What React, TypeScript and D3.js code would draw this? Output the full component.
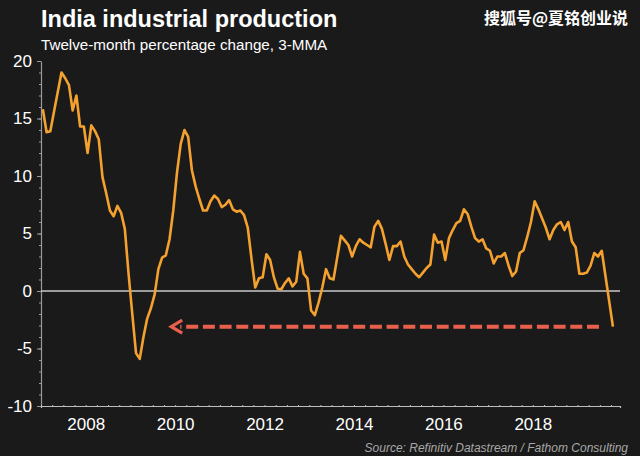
import React, { useEffect, useRef } from 'react';
import * as d3 from 'd3';

// monthly 3-MMA values, Jan 2007 .. Oct 2019
const startYear = 2007;
const values: number[] = [
  // 2007
  15.8, 13.8, 13.9, 15.6, 17.3, 19.0, 18.5, 17.9, 15.7, 17.0, 14.3, 14.3,
  // 2008
  12.0, 14.4, 13.9, 13.2, 9.9, 8.5, 7.0, 6.5, 7.4, 6.8, 5.4, 1.5,
  // 2009
  -2.0, -5.4, -5.9, -4.0, -2.4, -1.5, -0.3, 1.9, 2.9, 3.1, 4.5, 7.0,
  // 2010
  10.3, 12.8, 14.0, 13.4, 10.5, 9.1, 8.0, 7.0, 7.0, 7.8, 8.3, 8.0,
  // 2011
  7.3, 7.5, 7.9, 7.1, 6.9, 7.0, 6.6, 5.5, 2.8, 0.3, 1.1, 1.2,
  // 2012
  3.2, 2.7, 1.2, 0.2, 0.15, 0.7, 1.1, 0.4, 0.8, 3.4, 1.5, 1.1,
  // 2013
  -1.7, -2.1, -1.0, 0.3, 1.9, 1.1, 1.0, 2.9, 4.8, 4.4, 4.0, 3.0,
  // 2014
  3.9, 4.5, 4.2, 4.0, 3.8, 5.6, 6.1, 5.4, 4.1, 2.7, 3.9, 3.9,
  // 2015
  4.3, 3.0, 2.3, 1.9, 1.5, 1.2, 1.6, 2.0, 2.3, 4.9, 4.2, 4.3,
  // 2016
  2.7, 4.6, 5.3, 5.9, 6.1, 7.1, 6.7, 5.6, 4.6, 4.3, 4.5, 3.7,
  // 2017
  3.5, 2.4, 3.0, 3.0, 3.3, 2.2, 1.3, 1.7, 3.3, 3.55, 4.7, 6.0,
  // 2018
  7.8, 7.1, 6.3, 5.5, 4.5, 5.3, 5.8, 6.0, 5.3, 6.0, 4.3, 3.8,
  // 2019
  1.5, 1.5, 1.6, 2.2, 3.3, 3.0, 3.5, 1.3, -0.9, -3.1,
];

const xDomain: [number, number] = [2007, 2019.95];
const yDomain: [number, number] = [-10, 20];
const yMajorTicks = [-10, -5, 0, 5, 10, 15, 20];
const xLabelYears = [2008, 2010, 2012, 2014, 2016, 2018];

// dashed arrow: from (tail) to (head), in years / percent
const arrowTail = { t: 2019.48, v: -3.1 };
const arrowHead = { t: 2009.89, v: -3.1 };

const title = 'India industrial production';
const subtitle = 'Twelve-month percentage change, 3-MMA';
const watermark = '搜狐号@夏铭创业说';
const source = 'Source: Refinitiv Datastream / Fathom Consulting';

const W = 640;
const H = 456;

const App: React.FC = () => {
  const svgRef = useRef<SVGSVGElement>(null);

  useEffect(() => {
    if (!svgRef.current) return;
    const svg = d3.select(svgRef.current);
    svg.selectAll('*').remove();

    const x = d3.scaleLinear().domain(xDomain).range([41, 620]);
    const y = d3.scaleLinear().domain(yDomain).range([406, 61]);

    svg.append('rect').attr('width', W).attr('height', H).attr('fill', '#1a1a1a');

    // titles
    svg.append('text')
      .attr('x', 41).attr('y', 27)
      .attr('fill', '#fff')
      .style('font', 'bold 23.5px "Liberation Sans", Arial, sans-serif')
      .text(title);
    svg.append('text')
      .attr('x', 41).attr('y', 50)
      .attr('fill', '#fff')
      .style('font', '15.2px "Liberation Sans", Arial, sans-serif')
      .text(subtitle);
    svg.append('text')
      .attr('x', 628).attr('y', 24)
      .attr('text-anchor', 'end')
      .attr('fill', '#fff')
      .style('font', 'bold 16px "Noto Sans CJK SC", sans-serif')
      .text(watermark);

    // y axis
    const yMinor = d3.range(yDomain[0], yDomain[1] + 1);
    const gyMinor = svg.append('g').attr('transform', `translate(${x(xDomain[0])},0)`)
      .call(d3.axisLeft(y).tickValues(yMinor).tickSize(2).tickFormat(() => ''));
    gyMinor.select('.domain').remove();
    const gy = svg.append('g').attr('transform', `translate(${x(xDomain[0])},0)`)
      .call(d3.axisLeft(y).tickValues(yMajorTicks).tickSize(4).tickSizeOuter(0).tickPadding(5)
        .tickFormat(d => String(d)));
    gy.select('.domain').attr('stroke', '#9a9a9a').attr('stroke-width', 1.2);
    svg.selectAll('line').attr('stroke', '#9a9a9a');
    gy.selectAll('text')
      .attr('fill', '#fff')
      .style('font', '17px "Liberation Sans", Arial, sans-serif');

    // x axis
    const quarters = d3.range(0, (xDomain[1] - xDomain[0]) * 4).map(q => xDomain[0] + q / 4);
    const gxMinor = svg.append('g').attr('transform', `translate(0,${y(yDomain[0])})`)
      .call(d3.axisBottom(x).tickValues(quarters).tickSize(2).tickFormat(() => ''));
    gxMinor.select('.domain').attr('stroke', '#bdbdbd').attr('stroke-width', 1.2);
    gxMinor.selectAll('line').attr('stroke', '#bdbdbd').attr('transform', 'translate(0,-1)');
    const gx = svg.append('g').attr('transform', `translate(0,${y(yDomain[0])})`)
      .call(d3.axisBottom(x).tickValues(xLabelYears).tickSize(0).tickPadding(12).tickFormat(d3.format('d')));
    gx.select('.domain').remove();
    gx.selectAll('text')
      .attr('fill', '#fff')
      .style('font', '17px "Liberation Sans", Arial, sans-serif');

    // zero line
    svg.append('line')
      .attr('x1', x(xDomain[0])).attr('x2', x(xDomain[1]))
      .attr('y1', y(0)).attr('y2', y(0))
      .attr('stroke', '#c8c8c8').attr('stroke-width', 1.3);

    // series
    const pts = values.map((v, i) => ({ t: startYear + (i + 0.5) / 12, v }));
    const line = d3.line<{ t: number; v: number }>().x(d => x(d.t)).y(d => y(d.v));
    svg.append('path')
      .datum(pts)
      .attr('d', line)
      .attr('fill', 'none')
      .attr('stroke', '#f4a12f')
      .attr('stroke-width', 2.6)
      .attr('stroke-linejoin', 'round');

    // dashed arrow
    const arrowColor = '#e8604c';
    svg.append('line')
      .attr('x1', x(arrowTail.t)).attr('y1', y(arrowTail.v))
      .attr('x2', x(arrowHead.t) + 10).attr('y2', y(arrowHead.v))
      .attr('stroke', arrowColor)
      .attr('stroke-width', 4)
      .attr('stroke-dasharray', '12 4.7');
    const hx = x(arrowHead.t);
    const hy = y(arrowHead.v);
    svg.append('path')
      .attr('d', `M${hx + 12},${hy - 6.5}L${hx + 1},${hy}L${hx + 12},${hy + 6.5}`)
      .attr('fill', 'none')
      .attr('stroke', arrowColor)
      .attr('stroke-width', 3.2)
      .attr('stroke-linejoin', 'miter');

    // source
    svg.append('text')
      .attr('x', 628).attr('y', 452)
      .attr('text-anchor', 'end')
      .attr('fill', '#a8a8a8')
      .style('font', 'italic 12px "Liberation Sans", Arial, sans-serif')
      .text(source);
  }, []);

  return (
    <svg
      ref={svgRef}
      width={W}
      height={H}
      style={{ position: 'absolute', left: 0, top: 0, display: 'block' }}
    />
  );
};

export default App;
